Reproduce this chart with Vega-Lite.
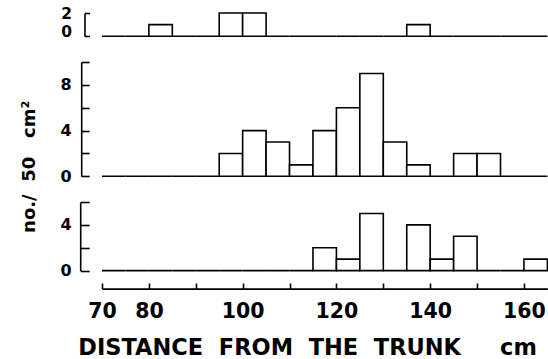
{
  "$schema": "https://vega.github.io/schema/vega-lite/v6.json",
  "background": "white",
  "padding": {"left": 20, "top": 6, "right": 0, "bottom": 0},
  "datasets": {
    "bins": [
      {"panel": "top", "lo": 70, "hi": 75, "n": 0},
      {"panel": "top", "lo": 75, "hi": 80, "n": 0},
      {"panel": "top", "lo": 80, "hi": 85, "n": 1},
      {"panel": "top", "lo": 85, "hi": 90, "n": 0},
      {"panel": "top", "lo": 90, "hi": 95, "n": 0},
      {"panel": "top", "lo": 95, "hi": 100, "n": 2},
      {"panel": "top", "lo": 100, "hi": 105, "n": 2},
      {"panel": "top", "lo": 105, "hi": 110, "n": 0},
      {"panel": "top", "lo": 110, "hi": 115, "n": 0},
      {"panel": "top", "lo": 115, "hi": 120, "n": 0},
      {"panel": "top", "lo": 120, "hi": 125, "n": 0},
      {"panel": "top", "lo": 125, "hi": 130, "n": 0},
      {"panel": "top", "lo": 130, "hi": 135, "n": 0},
      {"panel": "top", "lo": 135, "hi": 140, "n": 1},
      {"panel": "top", "lo": 140, "hi": 145, "n": 0},
      {"panel": "top", "lo": 145, "hi": 150, "n": 0},
      {"panel": "top", "lo": 150, "hi": 155, "n": 0},
      {"panel": "top", "lo": 155, "hi": 160, "n": 0},
      {"panel": "top", "lo": 160, "hi": 165, "n": 0},
      {"panel": "mid", "lo": 70, "hi": 75, "n": 0},
      {"panel": "mid", "lo": 75, "hi": 80, "n": 0},
      {"panel": "mid", "lo": 80, "hi": 85, "n": 0},
      {"panel": "mid", "lo": 85, "hi": 90, "n": 0},
      {"panel": "mid", "lo": 90, "hi": 95, "n": 0},
      {"panel": "mid", "lo": 95, "hi": 100, "n": 2},
      {"panel": "mid", "lo": 100, "hi": 105, "n": 4},
      {"panel": "mid", "lo": 105, "hi": 110, "n": 3},
      {"panel": "mid", "lo": 110, "hi": 115, "n": 1},
      {"panel": "mid", "lo": 115, "hi": 120, "n": 4},
      {"panel": "mid", "lo": 120, "hi": 125, "n": 6},
      {"panel": "mid", "lo": 125, "hi": 130, "n": 9},
      {"panel": "mid", "lo": 130, "hi": 135, "n": 3},
      {"panel": "mid", "lo": 135, "hi": 140, "n": 1},
      {"panel": "mid", "lo": 140, "hi": 145, "n": 0},
      {"panel": "mid", "lo": 145, "hi": 150, "n": 2},
      {"panel": "mid", "lo": 150, "hi": 155, "n": 2},
      {"panel": "mid", "lo": 155, "hi": 160, "n": 0},
      {"panel": "mid", "lo": 160, "hi": 165, "n": 0},
      {"panel": "bot", "lo": 70, "hi": 75, "n": 0},
      {"panel": "bot", "lo": 75, "hi": 80, "n": 0},
      {"panel": "bot", "lo": 80, "hi": 85, "n": 0},
      {"panel": "bot", "lo": 85, "hi": 90, "n": 0},
      {"panel": "bot", "lo": 90, "hi": 95, "n": 0},
      {"panel": "bot", "lo": 95, "hi": 100, "n": 0},
      {"panel": "bot", "lo": 100, "hi": 105, "n": 0},
      {"panel": "bot", "lo": 105, "hi": 110, "n": 0},
      {"panel": "bot", "lo": 110, "hi": 115, "n": 0},
      {"panel": "bot", "lo": 115, "hi": 120, "n": 2},
      {"panel": "bot", "lo": 120, "hi": 125, "n": 1},
      {"panel": "bot", "lo": 125, "hi": 130, "n": 5},
      {"panel": "bot", "lo": 130, "hi": 135, "n": 0},
      {"panel": "bot", "lo": 135, "hi": 140, "n": 4},
      {"panel": "bot", "lo": 140, "hi": 145, "n": 1},
      {"panel": "bot", "lo": 145, "hi": 150, "n": 3},
      {"panel": "bot", "lo": 150, "hi": 155, "n": 0},
      {"panel": "bot", "lo": 155, "hi": 160, "n": 0},
      {"panel": "bot", "lo": 160, "hi": 165, "n": 1}
    ]
  },
  "spacing": 25,
  "bounds": "flush",
  "resolve": {"scale": {"x": "independent", "y": "independent"}},
  "vconcat": [
    {
      "width": 445.4,
      "height": 23.3,
      "data": {"name": "bins"},
      "transform": [{"filter": "datum.panel == 'top'"}],
      "mark": {"type": "rect", "fill": "white", "stroke": "black", "strokeWidth": 1.6},
      "encoding": {
        "x": {"field": "lo", "type": "quantitative", "scale": {"domain": [70, 165], "nice": false, "zero": false}, "axis": null},
        "x2": {"field": "hi"},
        "y": {
          "field": "n", "type": "quantitative",
          "scale": {"domain": [0, 2], "nice": false},
          "axis": {
            "values": [0, 2], "offset": 17.5, "tickSize": -5, "labelPadding": 18,
            "labelFontSize": 15.5, "title": null,
            "labelBaseline": {"condition": {"test": "datum.value == 0", "value": "alphabetic"}, "value": "middle"}
          }
        },
        "y2": {"datum": 0}
      }
    },
    {
      "width": 445.4,
      "height": 114.3,
      "data": {"name": "bins"},
      "transform": [{"filter": "datum.panel == 'mid'"}],
      "mark": {"type": "rect", "fill": "white", "stroke": "black", "strokeWidth": 1.6},
      "encoding": {
        "x": {"field": "lo", "type": "quantitative", "scale": {"domain": [70, 165], "nice": false, "zero": false}, "axis": null},
        "x2": {"field": "hi"},
        "y": {
          "field": "n", "type": "quantitative",
          "scale": {"domain": [0, 10], "nice": false},
          "axis": {
            "values": [0, 2, 4, 6, 8, 10], "offset": 20.8, "tickSize": -8, "labelPadding": 18,
            "labelFontSize": 16,
            "labelExpr": "datum.value % 4 == 0 ? datum.label : ''",
            "title": "no./\u00a0\u00a050\u00a0\u00a0\u00a0cm²",
            "titleFontSize": 18, "titleAngle": 270, "titleAlign": "center", "titleBaseline": "alphabetic",
            "titleX": -46.7, "titleY": 104.3
          }
        },
        "y2": {"datum": 0}
      }
    },
    {
      "width": 445.4,
      "height": 68.6,
      "data": {"name": "bins"},
      "transform": [{"filter": "datum.panel == 'bot'"}],
      "mark": {"type": "rect", "fill": "white", "stroke": "black", "strokeWidth": 1.6},
      "encoding": {
        "x": {
          "field": "lo", "type": "quantitative",
          "scale": {"domain": [70, 165], "nice": false, "zero": false},
          "axis": {
            "values": [70, 80, 90, 100, 110, 120, 130, 140, 150, 160],
            "labelExpr": "indexof([90, 110, 130, 150], datum.value) >= 0 ? '' : datum.label",
            "offset": 18, "tickSize": -5.6, "labelPadding": 19, "labelFontSize": 20.5,
            "labelFlush": false, "labelOverlap": false,
            "title": "DISTANCE\u00a0\u00a0FROM\u00a0\u00a0THE\u00a0\u00a0TRUNK\u00a0\u00a0\u00a0\u00a0\u00a0cm",
            "titleFontSize": 22.5, "titleAlign": "left", "titleBaseline": "alphabetic",
            "titleX": -24.2, "titleY": 66
          }
        },
        "x2": {"field": "hi"},
        "y": {
          "field": "n", "type": "quantitative",
          "scale": {"domain": [0, 6], "nice": false},
          "axis": {
            "values": [0, 2, 4, 6], "offset": 21.8, "tickSize": -9, "labelPadding": 18,
            "labelFontSize": 16,
            "labelExpr": "datum.value % 4 == 0 ? datum.label : ''",
            "title": null
          }
        },
        "y2": {"datum": 0}
      }
    }
  ],
  "config": {
    "font": "DejaVu Sans",
    "view": {"stroke": null},
    "axis": {
      "grid": false,
      "domainColor": "black", "domainWidth": 1.6,
      "tickColor": "black", "tickWidth": 1.6,
      "labelColor": "black", "labelFont": "DejaVu Sans", "labelFontWeight": "bold",
      "titleColor": "black", "titleFont": "DejaVu Sans", "titleFontWeight": "bold"
    }
  }
}
